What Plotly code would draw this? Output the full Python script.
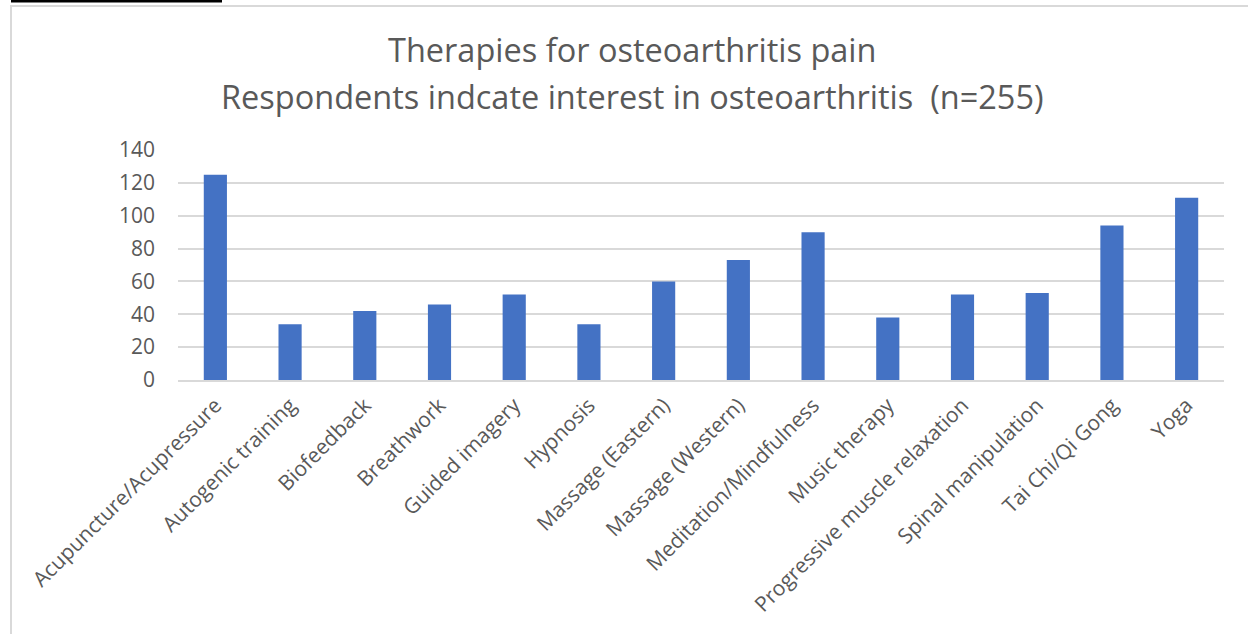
import plotly.graph_objects as go

# Survey counts
therapies = [
    "Acupuncture/Acupressure", "Autogenic training", "Biofeedback", "Breathwork",
    "Guided imagery", "Hypnosis", "Massage (Eastern)", "Massage (Western)",
    "Meditation/Mindfulness", "Music therapy", "Progressive muscle relaxation",
    "Spinal manipulation", "Tai Chi/Qi Gong", "Yoga",
]
respondents = [125, 34, 42, 46, 52, 34, 60, 73, 90, 38, 52, 53, 94, 111]
y_ticks = [0, 20, 40, 60, 80, 100, 120, 140]

title_line1 = "Therapies for osteoarthritis pain"
title_line2 = "Respondents indcate interest in osteoarthritis \u00a0(n=255)"

W, H = 1248, 634
L, R, T, B = 178, 24, 150, 254
pw, ph = W - L - R, H - T - B

def px(x):  # pixel -> paper x
    return (x - L) / pw

def py(y):  # pixel -> paper y
    return (H - B - y) / ph

font = "Open Sans, Segoe UI, sans-serif"
grey = "#595959"

fig = go.Figure()
fig.add_trace(go.Bar(x=therapies, y=respondents, marker=dict(color="#4472C4", line=dict(width=0))))

fig.add_annotation(text=title_line1, x=px(632), y=py(49), xref="paper", yref="paper",
                   showarrow=False, xanchor="center", yanchor="middle", font=dict(family=font, size=32.5, color=grey))
fig.add_annotation(text=title_line2, x=px(632), y=py(96), xref="paper", yref="paper",
                   showarrow=False, xanchor="center", yanchor="middle", font=dict(family=font, size=32.5, color=grey))

# chart frame and the black line on top
fig.add_shape(type="rect", xref="paper", yref="paper", x0=px(11), x1=px(1262), y0=py(6), y1=py(650),
              line=dict(color="#d9d9d9", width=2), fillcolor="rgba(0,0,0,0)", layer="below")
fig.add_shape(type="line", xref="paper", yref="paper", x0=px(11), x1=px(222), y0=py(1), y1=py(1),
              line=dict(color="black", width=3))

fig.update_layout(
    width=W, height=H, margin=dict(l=L, r=R, t=T, b=B, autoexpand=False),
    paper_bgcolor="white", plot_bgcolor="white", bargap=0.69, showlegend=False,
    font=dict(family=font, color=grey),
)
fig.update_xaxes(tickangle=-45, tickfont=dict(size=21, color=grey), showline=True, linecolor="#d9d9d9",
                 linewidth=1.5, showgrid=False, ticks="", ticklabelstandoff=3)
fig.update_yaxes(range=[0, 140], tickvals=y_ticks, tickfont=dict(size=21, color=grey), showgrid=True,
                 gridcolor="#d9d9d9", gridwidth=1.5, zeroline=False, ticks="", ticklabelstandoff=22)

fig.write_html("out.html", config={"displayModeBar": False},
               post_script="document.body.style.margin='0';")
